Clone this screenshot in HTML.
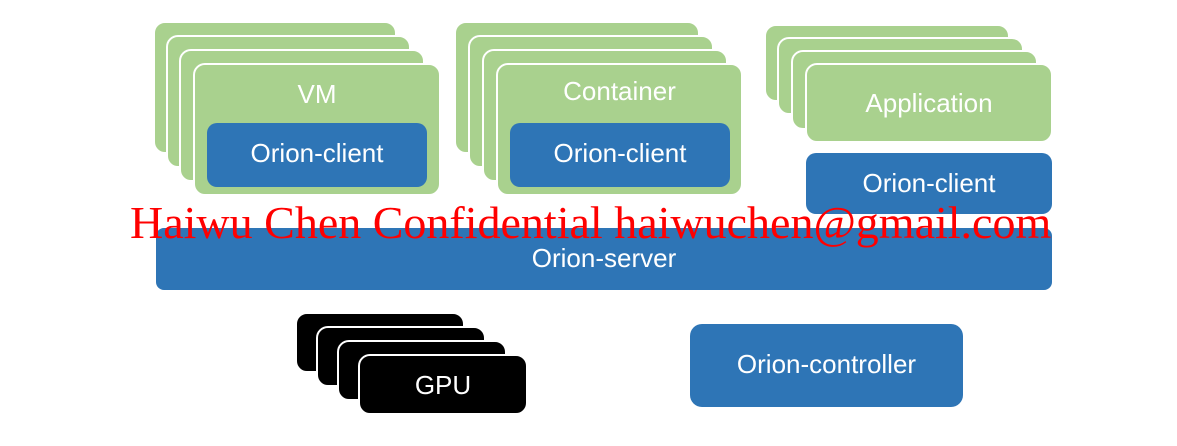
<!DOCTYPE html>
<html><head><meta charset="utf-8"><style>
body{margin:0;width:1177px;height:446px;background:#fff;position:relative;overflow:hidden;font-family:"Liberation Sans",sans-serif}
.b{position:absolute;box-sizing:border-box;border:2px solid #fff;border-radius:12px;color:#fff;text-align:center}
.g{background:#a9d18e}.bl{background:#2e75b6}.k{background:#000}
.t{position:absolute;left:0;right:0;font-size:26px;color:#fff;text-align:center}
</style></head><body>
<div class="b g" style="left:153px;top:21px;width:244px;height:133px"></div>
<div class="b g" style="left:166px;top:35px;width:245px;height:133px"></div>
<div class="b g" style="left:179px;top:49px;width:246px;height:133px"></div>
<div class="b g" style="left:193px;top:63px;width:248px;height:133px"><div class="t" style="top:14px">VM</div></div>
<div class="b bl" style="left:207px;top:123px;width:220px;height:64px;border:none;border-radius:10px"><div class="t" style="top:15px">Orion-client</div></div>

<div class="b g" style="left:454px;top:21px;width:246px;height:133px"></div>
<div class="b g" style="left:468px;top:35px;width:246px;height:133px"></div>
<div class="b g" style="left:482px;top:49px;width:246px;height:133px"></div>
<div class="b g" style="left:496px;top:63px;width:247px;height:133px"><div class="t" style="top:11px">Container</div></div>
<div class="b bl" style="left:510px;top:123px;width:220px;height:64px;border:none;border-radius:10px"><div class="t" style="top:15px">Orion-client</div></div>

<div class="b g" style="left:764px;top:24px;width:246px;height:78px"></div>
<div class="b g" style="left:777px;top:37px;width:247px;height:78px"></div>
<div class="b g" style="left:791px;top:50px;width:247px;height:80px"></div>
<div class="b g" style="left:805px;top:63px;width:248px;height:80px"><div class="t" style="top:23px">Application</div></div>
<div class="b bl" style="left:806px;top:153px;width:246px;height:61px;border:none;border-radius:10px"><div class="t" style="top:15px">Orion-client</div></div>

<div class="b bl" style="left:156px;top:228px;width:896px;height:62px;border:none;border-radius:8px"><div class="t" style="top:15px">Orion-server</div></div>

<div class="b k" style="left:295px;top:312px;width:170px;height:61px"></div>
<div class="b k" style="left:316px;top:326px;width:170px;height:61px"></div>
<div class="b k" style="left:337px;top:340px;width:170px;height:61px"></div>
<div class="b k" style="left:358px;top:354px;width:170px;height:61px"><div class="t" style="top:14px">GPU</div></div>

<div class="b bl" style="left:690px;top:324px;width:273px;height:83px;border:none;border-radius:12px"><div class="t" style="top:25px">Orion-controller</div></div>

<div style="position:absolute;left:130px;top:197px;width:940px;font-family:'Liberation Serif',serif;font-size:46px;color:#f00;white-space:nowrap;line-height:52px">Haiwu Chen Confidential haiwuchen@gmail.com</div>
</body></html>
